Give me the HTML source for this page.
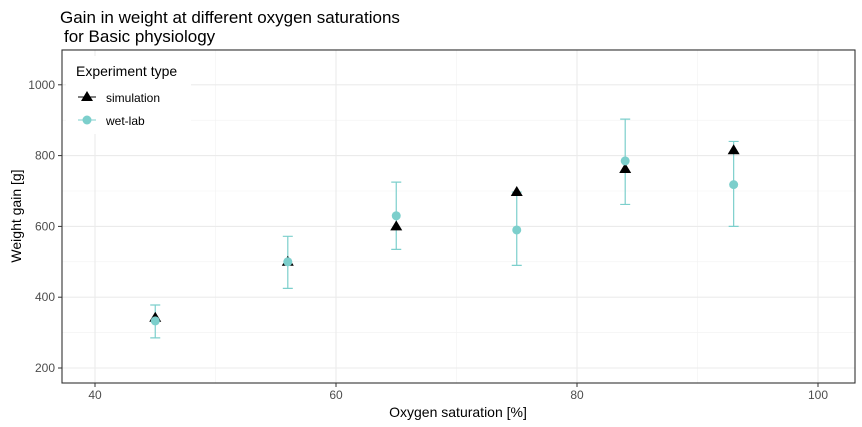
<!DOCTYPE html>
<html><head><meta charset="utf-8"><style>body{margin:0;background:#fff}svg{display:block;font-family:"Liberation Sans",Arial,sans-serif}</style></head>
<body>
<svg id="c" width="862" height="427" viewBox="0 0 862 427">
<text x="60" y="23" font-size="17" fill="#000">Gain in weight at different oxygen saturations</text>
<text x="64" y="42" font-size="17" fill="#000">for Basic physiology</text>
<g id="grid"></g>
<g id="marks"></g>
<rect x="62" y="50" width="793" height="333" fill="none" stroke="#333" stroke-width="1.1"/>
<g id="axes"></g>
<text x="458" y="417" font-size="14" text-anchor="middle">Oxygen saturation [%]</text>
<text transform="translate(21,216) rotate(-90)" font-size="14" text-anchor="middle">Weight gain [g]</text>
<g>
<rect x="66" y="56" width="125" height="78" fill="#fff"/>
<text x="76" y="76" font-size="14">Experiment type</text>
<g>
<line x1="78" y1="97" x2="96" y2="97" stroke="#000"/>
<polygon points="87,91 93,101 81,101" fill="#000"/>
<text x="106" y="102" font-size="12">simulation</text></g>
<g>
<line x1="78" y1="120" x2="96" y2="120" stroke="#7ccfcc"/>
<circle cx="87" cy="120" r="4.5" fill="#7ccfcc"/>
<text x="106" y="125" font-size="12">wet-lab</text></g>
</g>
</svg>
<script>
const xVals=[45,56,65,75,84,93];
const simVals=[342,500,600,697,762,815];
const wetVals=[333,500,630,590,785,718];
const wetLow=[285,425,535,490,662,600];
const wetHigh=[378,572,725,697,903,840];
const xTicks=[40,60,80,100];
const yTicks=[200,400,600,800,1000];
const NS='http://www.w3.org/2000/svg';
const sx=v=>95+(v-40)*12.05;
const sy=v=>368-(v-200)*0.354;
function mk(p,t,a){const e=document.createElementNS(NS,t);for(const k in a)e.setAttribute(k,a[k]);p.appendChild(e);return e;}
const g=document.getElementById('grid'),m=document.getElementById('marks'),ax=document.getElementById('axes');
for(let v=50;v<=90;v+=20){const l=mk(g,'line',{x1:sx(v),x2:sx(v),y1:50,y2:383,stroke:'#f2f2f2','stroke-width':0.6});

}
for(let v=300;v<=1100;v+=200){const l=mk(g,'line',{x1:62,x2:855,y1:sy(v),y2:sy(v),stroke:'#f2f2f2','stroke-width':0.6});

}
xTicks.forEach(v=>{const l=mk(g,'line',{x1:sx(v),x2:sx(v),y1:50,y2:383,stroke:'#ebebeb','stroke-width':1.1});


mk(ax,'line',{x1:sx(v),x2:sx(v),y1:383,y2:387,stroke:'#333'});
const t=mk(ax,'text',{x:sx(v),y:399,'font-size':12,'text-anchor':'middle',fill:'#4d4d4d'});t.textContent=v;

});
yTicks.forEach(v=>{const l=mk(g,'line',{x1:62,x2:855,y1:sy(v),y2:sy(v),stroke:'#ebebeb','stroke-width':1.1});


mk(ax,'line',{x1:58,x2:62,y1:sy(v),y2:sy(v),stroke:'#333'});
const t=mk(ax,'text',{x:55,y:sy(v)+4,'font-size':12,'text-anchor':'end',fill:'#4d4d4d'});t.textContent=v;

});
xVals.forEach((x,i)=>{const X=sx(x);
const eb=mk(m,'path',{d:`M${X-5},${sy(wetHigh[i])}H${X+5}M${X},${sy(wetHigh[i])}V${sy(wetLow[i])}M${X-5},${sy(wetLow[i])}H${X+5}`,stroke:'#7ccfcc','stroke-width':1.2,fill:'none'});


const Y=sy(simVals[i]);
const p=mk(m,'polygon',{points:`${X},${Y-6} ${X+6},${Y+4} ${X-6},${Y+4}`,fill:'#000'});


const c=mk(m,'circle',{cx:X,cy:sy(wetVals[i]),r:4.5,fill:'#7ccfcc'});

});
</script>
</body></html>
